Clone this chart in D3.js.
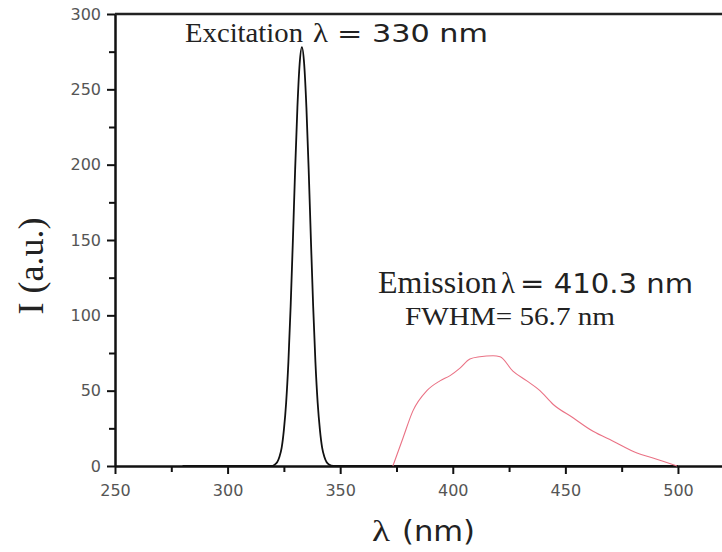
<!DOCTYPE html>
<html>
<head>
<meta charset="utf-8">
<script src="https://cdn.jsdelivr.net/npm/d3@7"></script>
<style>
  body { margin: 0; background: #fff; }
  .tick text { font-family: "DejaVu Sans", sans-serif; font-size: 16px; fill: #555; }
</style>
</head>
<body>
<svg id="chart" width="722" height="552"></svg>
<script>
// excitation peak (black)
let excWl  = [280, 300, 318, 320, 321, 322, 323, 324, 325, 326, 327, 328, 329, 330, 331, 332, 333, 334, 335, 336, 337, 338, 339, 340, 341, 342, 343, 344, 345, 347, 350, 400, 450, 500]
let excVal = [0, 0, 0, 0, 1, 2.5, 6, 12, 24, 42, 69, 106, 150, 197, 238, 267, 278, 267, 238, 197, 150, 106, 69, 42, 24, 12, 6, 2.5, 1, 0, 0, 0, 0, 0]
// emission band (red)
let emWl  = [373.4, 377.9, 382.3, 388.5, 394.3, 398.8, 403.2, 407.6, 412, 417.9, 421, 426.7, 432.9, 438.7, 444.5, 453.4, 462.3, 471, 481.8, 488.9, 499.6]
let emVal = [0, 18.6, 36.6, 50, 56.5, 60, 65, 71, 72.5, 73.2, 72.5, 63, 56.5, 50, 41, 32, 23, 16.6, 8.6, 5.3, 0]
let xTicks = [250, 300, 350, 400, 450, 500]
let yTicks = [0, 50, 100, 150, 200, 250, 300]

let svg = d3.select('#chart')
let x = d3.scaleLinear().domain([250, 520]).range([115, 723])
let y = d3.scaleLinear().domain([0, 300]).range([466, 14])

// minor ticks first
svg.append('g')
   .attr('transform', 'translate(0,466)')
   .call(d3.axisBottom(x).tickValues([275, 325, 375, 425, 475]).tickSize(6).tickFormat(''))
   .call(g => g.select('.domain').remove())
svg.append('g')
   .attr('transform', 'translate(115,0)')
   .call(d3.axisLeft(y).tickValues([25, 75, 125, 175, 225, 275]).tickSize(6).tickFormat(''))
   .call(g => g.select('.domain').remove())

svg.append('g')
   .attr('transform', 'translate(0,466)')
   .call(d3.axisBottom(x).tickValues(xTicks).tickSize(8).tickPadding(11).tickSizeOuter(0))
svg.append('g')
   .attr('transform', 'translate(115,0)')
   .call(d3.axisLeft(y).tickValues(yTicks).tickSize(8).tickPadding(6).tickSizeOuter(0))
svg.selectAll('.domain').attr('stroke-width', 2.5).attr('stroke', '#111')
svg.selectAll('.tick line').attr('stroke-width', 2).attr('stroke', '#111')

// top frame line
svg.append('line')
   .attr('x1', x(250)).attr('x2', x(520))
   .attr('y1', y(300)).attr('y2', y(300))
   .attr('stroke', '#222').attr('stroke-width', 2.5)

let line = d3.line().x(d => x(d[0])).y(d => y(d[1])).curve(d3.curveMonotoneX)

svg.append('path')
   .datum(d3.zip(excWl, excVal))
   .attr('d', line)
   .attr('fill', 'none')
   .attr('stroke', '#111')
   .attr('stroke-width', 1.8)

svg.append('path')
   .datum(d3.zip(emWl, emVal))
   .attr('d', line)
   .attr('fill', 'none')
   .attr('stroke', '#ea7285')
   .attr('stroke-width', 1.1)

// labels
let serif = '"Liberation Serif", "Times New Roman", serif'
let sans = '"DejaVu Sans", sans-serif'

function label(txt, x0, y0, font, size, width) {
  return svg.append('text')
    .attr('x', x0).attr('y', y0)
    .attr('fill', '#222')
    .attr('textLength', width).attr('lengthAdjust', 'spacingAndGlyphs')
    .style('font-family', font).style('font-size', size + 'px')
    .text(txt)
}

label('Excitation', 185, 42, serif, 28, 118)
label('λ', 313, 42, serif, 28, 15)
label('= 330 nm', 337, 42, sans, 25, 151)

label('Emission', 378, 293, serif, 31, 119)
label('λ', 501, 293, serif, 29, 14)
label('= 410.3 nm', 520, 293, sans, 27, 173)
label('FWHM= 56.7 nm', 405, 325, serif, 26, 210)

label('λ', 372, 541, serif, 30, 18)
label('(nm)', 402, 541, sans, 28, 73)

svg.append('text')
   .attr('transform', 'translate(43, 266) rotate(-90)')
   .style('text-anchor', 'middle')
   .style('font-family', serif).style('font-size', '36px')
   .attr('fill', '#222')
   .text('I (a.u.)')
</script>
</body>
</html>
